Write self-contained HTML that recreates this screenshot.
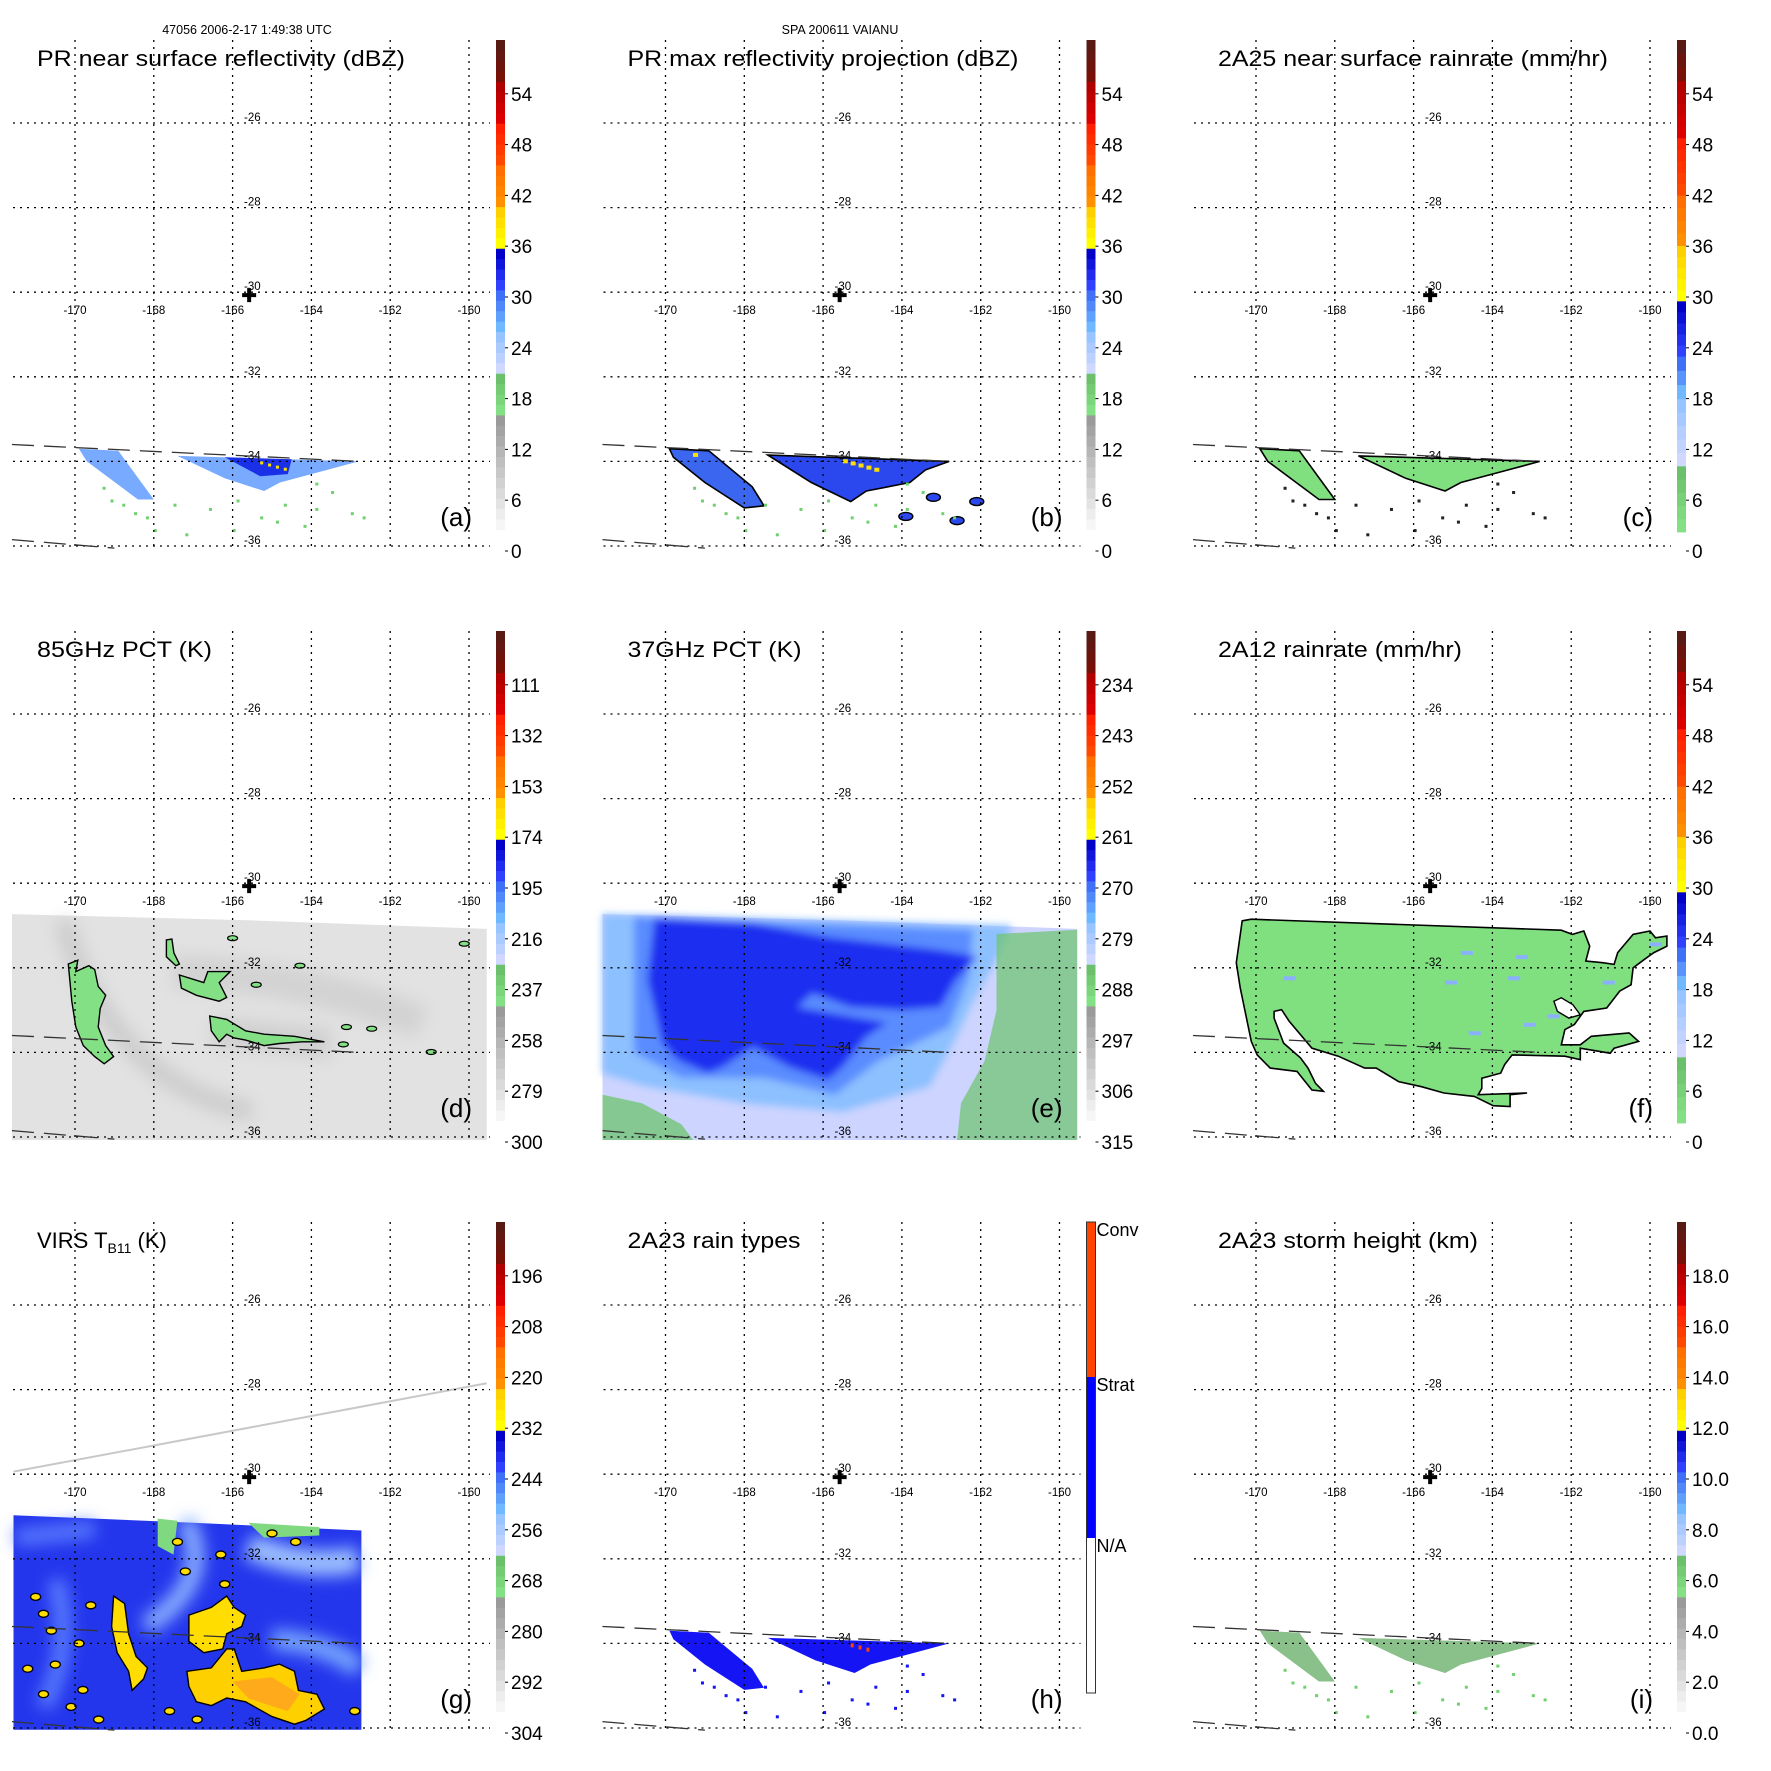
<!DOCTYPE html>
<html><head><meta charset="utf-8">
<style>
html,body{margin:0;padding:0;background:#fff;}
svg{display:block;font-family:"Liberation Sans",Arial,sans-serif;}
</style></head>
<body>
<svg id="fig" xmlns="http://www.w3.org/2000/svg" width="1771" height="1771" viewBox="0 0 1771 1771">
<defs>
<filter id="blur6" x="-20%" y="-20%" width="140%" height="140%"><feGaussianBlur stdDeviation="8"/></filter>
<filter id="blur3" x="-20%" y="-20%" width="140%" height="140%"><feGaussianBlur stdDeviation="4"/></filter>
</defs>
<text x="247" y="34" font-size="12.5" text-anchor="middle">47056 2006-2-17 1:49:38 UTC</text>
<text x="840" y="34" font-size="12.5" text-anchor="middle">SPA 200611 VAIANU</text>
</svg>
<script>
// ---- data ----
const lonTicks = [-170,-168,-166,-164,-162,-160];
const latTicks = [-26,-28,-30,-32,-34,-36];
const stormCenter = [-165.58,-30.07];
const labelsDBZ = ["0","6","12","18","24","30","36","42","48","54"];
const labels85 = ["300","279","258","237","216","195","174","153","132","111"];
const labels37 = ["315","306","297","288","279","270","261","252","243","234"];
const labelsVIRS = ["304","292","280","268","256","244","232","220","208","196"];
const labelsHt = ["0.0","2.0","4.0","6.0","8.0","10.0","12.0","14.0","16.0","18.0"];
const labelsType = ["N/A","Strat","Conv"];
const titles = ["PR near surface reflectivity (dBZ)","PR max reflectivity projection (dBZ)","2A25 near surface rainrate (mm/hr)","85GHz PCT (K)","37GHz PCT (K)","2A12 rainrate (mm/hr)","VIRS T","2A23 rain types","2A23 storm height (km)"];
const titleWidths = [368,391,390,175,174,244,0,173,260];
const panelLetters = ["(a)","(b)","(c)","(d)","(e)","(f)","(g)","(h)","(i)"];
const orbitEdge1 = [[-171.6,-33.6],[-162.8,-34.0]];
const orbitEdge2 = [[-171.6,-35.85],[-169.0,-36.05]];
const prWedge1 = [[-169.9,-33.7],[-168.9,-33.75],[-168.0,-34.9],[-168.4,-34.9],[-169.7,-34.0]];
const prWedge2 = [[-167.4,-33.87],[-162.8,-34.0],[-163.6,-34.2],[-164.8,-34.5],[-165.2,-34.7],[-166.2,-34.4]];
const prCore = [[-166.2,-33.9],[-164.5,-33.95],[-164.6,-34.3],[-165.3,-34.35]];
const prWedge1b = [[-169.9,-33.7],[-168.9,-33.75],[-167.8,-34.6],[-167.5,-35.05],[-168.0,-35.1],[-169.0,-34.5],[-169.8,-33.9]];
const prWedge2b = [[-167.4,-33.85],[-162.8,-34.0],[-163.4,-34.2],[-163.8,-34.5],[-164.9,-34.7],[-165.3,-34.95],[-166.3,-34.5]];
const prBlobs = [[-163.2,-34.85],[-162.1,-34.95],[-162.6,-35.4],[-163.9,-35.3]];
const specks = [[-169.3,-34.6],[-169.1,-34.9],[-168.8,-35.0],[-168.5,-35.2],[-168.2,-35.3],[-167.5,-35.0],[-166.6,-35.1],[-166.0,-35.6],[-165.3,-35.3],[-164.7,-35.0],[-164.2,-35.5],[-163.9,-35.1],[-163.5,-34.7],[-163.0,-35.2],[-162.7,-35.3],[-167.2,-35.7],[-165.9,-34.9],[-163.9,-34.5],[-168.0,-35.6],[-164.9,-35.4]];
const yellowCells = [[-165.3,-34.0],[-165.1,-34.05],[-164.9,-34.1],[-164.7,-34.15],[-165.5,-33.95],[-169.3,-33.8]];
const mwSwath = [[-171.6,-30.73],[-165.5,-30.88],[-159.55,-31.08],[-159.55,-36.07],[-171.6,-36.07]];
const pct85Blobs = [
 [[-170.17,-31.91],[-169.93,-31.82],[-169.98,-32.09],[-169.65,-31.95],[-169.50,-32.04],[-169.41,-32.44],[-169.22,-32.65],[-169.36,-32.96],[-169.41,-33.40],[-169.22,-33.84],[-169.02,-34.10],[-169.26,-34.27],[-169.50,-34.10],[-169.79,-33.84],[-169.98,-33.40],[-170.08,-32.79]],
 [[-167.68,-31.34],[-167.54,-31.32],[-167.49,-31.65],[-167.35,-31.91],[-167.44,-31.95],[-167.68,-31.74]],
 [[-167.35,-32.17],[-166.73,-32.35],[-166.63,-32.09],[-166.06,-32.09],[-166.34,-32.35],[-166.15,-32.70],[-166.34,-32.79],[-166.92,-32.65],[-167.30,-32.48]],
 [[-166.58,-33.14],[-166.15,-33.22],[-165.67,-33.49],[-165.20,-33.57],[-164.43,-33.62],[-163.67,-33.75],[-164.24,-33.75],[-164.81,-33.79],[-165.20,-33.84],[-165.67,-33.71],[-165.96,-33.66],[-166.15,-33.57],[-166.34,-33.75],[-166.54,-33.49]]
];
const pct85Small = [[-164.29,-31.95],[-162.47,-33.44],[-163.11,-33.40],[-160.12,-31.43],[-163.19,-33.81],[-160.96,-33.99],[-165.4,-32.4],[-166.0,-31.3]];
const pct37Light = [[-171.6,-30.73],[-161.2,-31.0],[-161.6,-31.8],[-162.2,-32.8],[-162.6,-33.6],[-163.3,-34.8],[-165.5,-35.4],[-168,-35.2],[-170.5,-34.8],[-171.6,-34.5]];
const pct37Mid = [[-170.8,-30.8],[-162.2,-31.1],[-162.3,-32.2],[-162.8,-33.4],[-164.6,-34.2],[-165.7,-35.0],[-167.5,-34.6],[-169.6,-34.6],[-170.8,-34.0]];
const pct37Dark = [[-170.28,-30.82],[-167.79,-30.94],[-165.89,-31.27],[-163.02,-31.58],[-162.08,-31.74],[-162.64,-32.29],[-163.02,-32.93],[-163.98,-33.00],[-165.30,-32.93],[-166.27,-32.60],[-166.65,-32.93],[-164.37,-33.30],[-164.92,-33.64],[-165.51,-34.35],[-165.89,-34.65],[-166.85,-34.35],[-167.79,-33.87],[-168.55,-34.35],[-168.93,-34.49],[-169.70,-34.18],[-170.08,-33.78],[-170.46,-32.29]];
const pct37Green1 = [[-161.6,-31.2],[-159.55,-31.1],[-159.55,-36.07],[-162.6,-36.07],[-162.5,-35.2],[-161.9,-34.2],[-161.6,-33.0]];
const pct37Green2 = [[-171.6,-35.0],[-170.6,-35.2],[-169.6,-35.7],[-169.3,-36.07],[-171.6,-36.07]];
const rain12 = [[-170.35,-30.89],[-170.12,-30.85],[-162.25,-31.11],[-161.97,-31.21],[-161.68,-31.13],[-161.53,-31.49],[-161.63,-31.84],[-161.20,-31.88],[-160.91,-31.92],[-160.82,-31.64],[-160.43,-31.21],[-160.00,-31.13],[-159.86,-31.29],[-159.57,-31.25],[-159.57,-31.49],[-159.90,-31.64],[-160.14,-31.80],[-160.43,-32.00],[-160.48,-32.40],[-160.77,-32.55],[-161.10,-32.95],[-161.68,-33.03],[-161.92,-33.34],[-162.16,-33.46],[-162.25,-33.82],[-161.77,-33.82],[-161.49,-33.62],[-160.53,-33.54],[-160.29,-33.74],[-160.91,-33.90],[-161.01,-34.02],[-161.77,-33.90],[-161.77,-34.17],[-162.16,-34.09],[-163.50,-34.06],[-163.69,-34.29],[-163.79,-34.49],[-164.27,-34.61],[-164.27,-34.85],[-164.36,-35.00],[-163.12,-34.96],[-163.55,-35.00],[-163.55,-35.28],[-163.98,-35.26],[-164.46,-35.04],[-165.23,-34.96],[-165.80,-34.81],[-166.38,-34.69],[-166.95,-34.37],[-167.24,-34.37],[-167.91,-34.09],[-168.58,-33.90],[-169.16,-33.26],[-169.35,-32.99],[-169.54,-33.03],[-169.54,-33.19],[-169.30,-33.78],[-168.87,-34.13],[-168.68,-34.37],[-168.49,-34.73],[-168.29,-34.92],[-168.58,-34.89],[-168.96,-34.45],[-169.64,-34.37],[-169.97,-34.06],[-170.12,-33.74],[-170.40,-32.47],[-170.50,-31.88]];
const rain12Hole = [[-162.44,-32.79],[-162.25,-32.71],[-161.96,-32.87],[-161.77,-33.11],[-162.06,-33.19],[-162.35,-33.03]];
const rain12Blue = [[-164.8,-31.6],[-163.4,-31.7],[-163.6,-32.2],[-165.2,-32.3],[-169.3,-32.2],[-163.2,-33.3],[-162.6,-33.1],[-164.6,-33.5],[-161.2,-32.3],[-160.0,-31.4]];
const virsSwath = [[-171.56,-30.97],[-167.0,-31.15],[-162.73,-31.33],[-162.73,-36.04],[-171.56,-36.04]];
const virsLine = [[-171.56,-29.94],[-159.55,-27.85]];
const virsBig = [[-167.16,-34.66],[-166.54,-34.58],[-166.15,-34.13],[-165.96,-34.13],[-165.77,-34.66],[-165.20,-34.58],[-164.81,-34.49],[-164.43,-34.66],[-164.33,-35.11],[-163.86,-35.20],[-163.67,-35.55],[-164.14,-35.82],[-164.43,-35.91],[-165.00,-35.73],[-165.67,-35.38],[-166.15,-35.29],[-166.54,-35.47],[-166.92,-35.38],[-167.11,-35.02]];
const virsOrange = [[-166.0,-34.9],[-165.0,-34.8],[-164.3,-35.2],[-164.6,-35.6],[-165.6,-35.3]];
const virsStreak = [[-169.02,-32.88],[-168.74,-33.06],[-168.64,-33.77],[-168.45,-34.31],[-168.16,-34.58],[-168.26,-34.84],[-168.55,-35.11],[-168.64,-34.66],[-168.93,-34.22],[-169.07,-33.60]];
const virsMid = [[-167.11,-33.33],[-166.54,-33.15],[-166.15,-32.88],[-165.96,-33.15],[-165.67,-33.33],[-165.77,-33.60],[-166.15,-33.77],[-166.25,-34.13],[-166.73,-34.22],[-167.11,-33.95]];
const virsSmall = [[-171.0,-32.9],[-170.8,-33.3],[-170.5,-34.5],[-170.1,-35.5],[-169.6,-33.1],[-169.9,-34.0],[-167.4,-31.6],[-166.3,-31.9],[-165.0,-31.4],[-164.4,-31.6],[-167.6,-35.6],[-166.9,-35.8],[-162.9,-35.6],[-170.8,-35.2],[-169.4,-35.8],[-166.2,-32.6],[-167.2,-32.3],[-170.6,-33.7],[-169.8,-35.1],[-171.2,-34.6]];
const virsGreen1 = [[-167.9,-31.05],[-167.4,-31.1],[-167.5,-31.9],[-167.9,-31.7]];
const virsGreen2 = [[-165.6,-31.15],[-163.8,-31.25],[-163.8,-31.45],[-165.2,-31.5]];

// ---- geometry ----
const COLP = 590.5, ROWP = 591;
const X = lon => 75 + (lon + 170) * 39.4;
const Y = lat => 123 + (-26 - lat) * 42.3;
const NS = "http://www.w3.org/2000/svg";
const svg = document.getElementById('fig');
function mk(tag, attrs, parent){ const e=document.createElementNS(NS,tag); for(const k in attrs) e.setAttribute(k,attrs[k]); parent.appendChild(e); return e; }
function pts(arr){ return arr.map(p=>X(p[0]).toFixed(1)+','+Y(p[1]).toFixed(1)).join(' '); }
function poly(g, arr, fill, stroke, sw, name){ const p=mk('polygon',{points:pts(arr),fill:fill,stroke:stroke||'none','stroke-width':sw||0},g);
 
  return p; }
function hexRGB(h){ return [parseInt(h.substr(1,2),16),parseInt(h.substr(3,2),16),parseInt(h.substr(5,2),16)]; }
function mix(a,b,t){ const A=hexRGB(a),B=hexRGB(b); return 'rgb('+A.map((v,i)=>Math.round(v+(B[i]-v)*t)).join(',')+')'; }

const bandsA = [[3,"#ffffff","#9a9a9a"],[1,"#84e084","#6cc06c"],[1,"#d0d8ff","#98c4ff"],[1,"#70b8ff","#4070f8"],[1,"#3040ff","#0000c8"],[1,"#ffff00","#ffd000"],[1,"#ff9000","#ff7000"],[1,"#ff4800","#ff2000"],[1,"#dd0000","#b00000"],[1,"#781008","#5a1a14"]];
const bandsC = [[1.35,"#84e084","#6cc06c"],[1.37,"#d0d8ff","#98c4ff"],[0.87,"#70b8ff","#4070f8"],[1.13,"#3040ff","#0000c8"],[1.13,"#ffff00","#ffd000"],[1.03,"#ff9000","#ff7000"],[1.17,"#ff4800","#ff2000"],[1.17,"#dd0000","#b00000"],[0.83,"#781008","#5a1a14"]];

function colorbar(g, bands, labels, bottom){
 const cb = mk('g',{},g);
 
 
 const top=40, tot=bands.reduce((s,b)=>s+b[0],0), H=bottom-top;
 let y=bottom;
 bands.forEach(b=>{
  const h=b[0]/tot*H, n=Math.max(3,Math.round(b[0]*4));
  for(let i=0;i<n;i++){
   mk('rect',{x:496,y:(y-(i+1)*h/n).toFixed(2),width:9,height:(h/n+0.4).toFixed(2),fill:mix(b[1],b[2],i/(n-1))},cb);
  }
  y-=h;
 });
 labels.forEach((t,i)=>{
  const ty = 551 - i*50.8;
  mk('line',{x1:505,x2:508,y1:ty,y2:ty,stroke:'#000','stroke-width':1},cb);
  const tx=mk('text',{x:511,y:(ty+7).toFixed(1),'font-size':19},cb);
  tx.textContent=t;
  
  
 });
}

function grid(g){
 const gg=mk('g',{},g);
 
 
 lonTicks.forEach(l=>{
  mk('line',{x1:X(l),x2:X(l),y1:40,y2:550,stroke:'#000','stroke-width':1.3,'stroke-dasharray':'2,5'},gg);
  const t=mk('text',{x:X(l),y:314,'font-size':11.5,'text-anchor':'middle'},gg);
  t.textContent=String(l);
  
  
 });
 latTicks.forEach(l=>{
  mk('line',{x1:13,x2:490,y1:Y(l),y2:Y(l),stroke:'#000','stroke-width':1.3,'stroke-dasharray':'2,5'},gg);
  const t=mk('text',{x:244,y:Y(l)-2,'font-size':11.5},gg);
  t.textContent=String(l);
  
  
 });
}
function dashedEdges(g){
 [orbitEdge1,orbitEdge2].forEach(e=>{
  const l=mk('line',{x1:X(e[0][0]),y1:Y(e[0][1]),x2:X(e[1][0]),y2:Y(e[1][1]),stroke:'#333','stroke-width':1.3,'stroke-dasharray':'22,10'},g);
  
  
 });
}
function cross(g){
 const c=mk('path',{d:`M${X(stormCenter[0])-7},${Y(stormCenter[1])}h14M${X(stormCenter[0])},${Y(stormCenter[1])-7}v14`,stroke:'#000','stroke-width':4},g);
 
 
}
function dots(g, arr, fill, w, h){
 arr.forEach(p=>{ const r=mk('rect',{x:X(p[0]),y:Y(p[1]),width:w,height:h,fill:fill},g);
  
   });
}

const panels=[];
for(let k=0;k<9;k++){
 const col=k%3,row=Math.floor(k/3);
 const g=mk('g',{transform:`translate(${(col*COLP).toFixed(1)},${row*ROWP})`},svg);
 
 
 panels.push(g);
}

// a
(function(g){
 poly(g,prWedge1,'#78aaff','none',0,'pr-swath-rain');
 poly(g,prWedge2,'#78aaff','none',0,'pr-swath-rain');
 poly(g,prCore,'#1a30e8','none',0,'pr-convective-core');
 dots(g,specks,'#70d070',3,3);
 dots(g,yellowCells.slice(0,4),'#ffe000',3,3);
})(panels[0]);
// b
(function(g){
 poly(g,prWedge1b,'#3a66f0','#000',1.6,'pr-max-refl-region');
 poly(g,prWedge2b,'#2a48ee','#000',1.6,'pr-max-refl-region');
 prBlobs.forEach(b=>{ const e=mk('ellipse',{cx:X(b[0]),cy:Y(b[1]),rx:7,ry:4,fill:'#2a48ee',stroke:'#000','stroke-width':1.4},g);
    });
 dots(g,specks,'#70d070',3,3);
 dots(g,yellowCells,'#ffe000',5,4);
})(panels[1]);
// c
(function(g){
 poly(g,prWedge1,'#80e080','#000',1.6,'rainrate-region');
 poly(g,prWedge2,'#80e080','#000',1.6,'rainrate-region');
 dots(g,specks,'#222',3,3);
})(panels[2]);
// d
(function(g){
 poly(g,mwSwath,'#e2e2e2','none',0,'pct85-swath');
 const sh=mk('g',{filter:'url(#blur6)',opacity:'0.7'},g);
  
 mk('path',{d:`M${X(-170.3)},${Y(-30.9)} Q${X(-169)},${Y(-34.8)} ${X(-165.5)},${Y(-35.4)}`,stroke:'#c4c4c4','stroke-width':20,fill:'none'},sh);
 mk('path',{d:`M${X(-167.5)},${Y(-32.1)} Q${X(-164)},${Y(-32.2)} ${X(-161.2)},${Y(-33.3)}`,stroke:'#cccccc','stroke-width':34,fill:'none'},sh);
 mk('path',{d:`M${X(-166.5)},${Y(-33.5)} L${X(-163.5)},${Y(-33.8)}`,stroke:'#c8c8c8','stroke-width':30,fill:'none'},sh);
 pct85Blobs.forEach(b=>poly(g,b,'#84e084','#000',1.4,'pct85-ice-scattering-region'));
 pct85Small.forEach(p=>{ const e=mk('ellipse',{cx:X(p[0]),cy:Y(p[1]),rx:5,ry:2.5,fill:'#84e084',stroke:'#000','stroke-width':1.2},g);
    });
})(panels[3]);
// e
(function(g){
 poly(g,mwSwath,'#cdd4ff','none',0,'pct37-swath');
 const bl=mk('g',{filter:'url(#blur3)'},g);
  
 poly(bl,pct37Light,'#8cc0ff','none',0,'pct37-light-region');
 poly(bl,pct37Mid,'#5a8cff','none',0,'pct37-mid-region');
 poly(bl,pct37Dark,'#1c2ef0','none',0,'pct37-dark-region');
 poly(g,pct37Green1,'#6cc46c','none',0,'pct37-warm-region').setAttribute('opacity','0.7');
 poly(g,pct37Green2,'#6cc46c','none',0,'pct37-warm-region').setAttribute('opacity','0.75');
})(panels[4]);
// f
(function(g){
 poly(g,rain12,'#80e080','#000',1.6,'rainrate-2a12-region');
 poly(g,rain12Hole,'#ffffff','#000',1.4,'rainrate-2a12-hole');
 rain12Blue.forEach(p=>{ const r=mk('rect',{x:X(p[0]),y:Y(p[1]),width:12,height:4,fill:'#8ab0ff'},g);
    });
})(panels[5]);
// g
(function(g){
 const ln=mk('line',{x1:X(virsLine[0][0]),y1:Y(virsLine[0][1]),x2:X(virsLine[1][0]),y2:Y(virsLine[1][1]),stroke:'#c8c8c8','stroke-width':2},g);
  
 poly(g,virsSwath,'#2436ec','none',0,'virs-swath');
 const bl=mk('g',{filter:'url(#blur6)'},g);
  
 mk('path',{d:`M${X(-167.2)},${Y(-31.1)} Q${X(-166.4)},${Y(-32.5)} ${X(-168.2)},${Y(-33.6)}`,stroke:'#8cb4ff','stroke-width':18,fill:'none'},bl);
 mk('path',{d:`M${X(-165.6)},${Y(-31.7)} Q${X(-164)},${Y(-32.3)} ${X(-162.8)},${Y(-32.0)}`,stroke:'#9cc0ff','stroke-width':26,fill:'none'},bl);
 mk('path',{d:`M${X(-165)},${Y(-33.9)} Q${X(-163.5)},${Y(-34.0)} ${X(-162.8)},${Y(-34.6)}`,stroke:'#78a8ff','stroke-width':20,fill:'none'},bl);
 mk('path',{d:`M${X(-171.5)},${Y(-31.5)} L${X(-169.5)},${Y(-31.3)}`,stroke:'#5a7cff','stroke-width':16,fill:'none'},bl);
 mk('path',{d:`M${X(-170.5)},${Y(-32.5)} Q${X(-170)},${Y(-34)} ${X(-170.8)},${Y(-35.5)}`,stroke:'#5c80ff','stroke-width':16,fill:'none'},bl);
 poly(g,virsGreen1,'#80d880','none',0,'virs-warm-region');
 poly(g,virsGreen2,'#80d880','none',0,'virs-warm-region');
 poly(g,virsStreak,'#ffdd00','#000',1.4,'virs-cold-cloud');
 poly(g,virsMid,'#ffdd00','#000',1.4,'virs-cold-cloud');
 poly(g,virsBig,'#ffd000','#000',1.4,'virs-cold-cloud');
 poly(g,virsOrange,'#ffa020','none',0,'virs-coldest-cloud').setAttribute('opacity','0.8');
 virsSmall.forEach(p=>{ const e=mk('ellipse',{cx:X(p[0]),cy:Y(p[1]),rx:5,ry:3.5,fill:'#ffdd00',stroke:'#000','stroke-width':1.3},g);
    });
})(panels[6]);
// h
(function(g){
 poly(g,prWedge1b,'#1414f4','none',0,'stratiform-rain');
 poly(g,prWedge2,'#1414f4','none',0,'stratiform-rain');
 dots(g,specks,'#1414f4',3,3);
 dots(g,yellowCells.slice(0,3),'#ff4400',3,4);
})(panels[7]);
// i
(function(g){
 poly(g,prWedge1,'#9a9a9a','none',0,'storm-height-region');
 poly(g,prWedge2,'#9a9a9a','none',0,'storm-height-region');
 poly(g,prWedge1,'#7ee07e','none',0,'storm-height-region').setAttribute('opacity','0.55');
 poly(g,prWedge2,'#7ee07e','none',0,'storm-height-region').setAttribute('opacity','0.55');
 dots(g,specks,'#70d070',3,3);
})(panels[8]);

const cbLabels=[labelsDBZ,labelsDBZ,labelsDBZ,labels85,labels37,labelsDBZ,labelsVIRS,null,labelsHt];
panels.forEach((g,k)=>{
 grid(g); dashedEdges(g); cross(g);
 const t=mk('text',{x:37,y:66,'font-size':22},g);
 
 
 if(k===6){
  t.textContent='VIRS T';
  const s=mk('tspan',{'font-size':14,dy:5},t); s.textContent='B11';
  const s2=mk('tspan',{dy:-5},t); s2.textContent=' (K)';
 } else {
  t.textContent=titles[k];
  t.setAttribute('textLength',titleWidths[k]);
  t.setAttribute('lengthAdjust','spacingAndGlyphs');
 }
 const L=mk('text',{x:472,y:526,'font-size':26,'text-anchor':'end'},g);
 L.textContent=panelLetters[k];
 
 
 if(k===7){
  const cb=mk('g',{},g);
  
  
  mk('rect',{x:496,y:40,width:9,height:155,fill:'#ff4400'},cb);
  mk('rect',{x:496,y:195,width:9,height:161,fill:'#0000ff'},cb);
  mk('rect',{x:496,y:356,width:9,height:155,fill:'#fff'},cb);
  mk('rect',{x:496,y:40,width:9,height:471,fill:'none',stroke:'#333','stroke-width':1},cb);
  [356,195,40].forEach((yy,i)=>{
   const tx=mk('text',{x:506,y:yy+14,'font-size':18},cb);
   tx.textContent=labelsType[i];
   
   
  });
 } else {
  colorbar(g,(k===2||k===5)?bandsC:bandsA,cbLabels[k],(k===2||k===5)?532:540);
 }
});
</script>
</body></html>
